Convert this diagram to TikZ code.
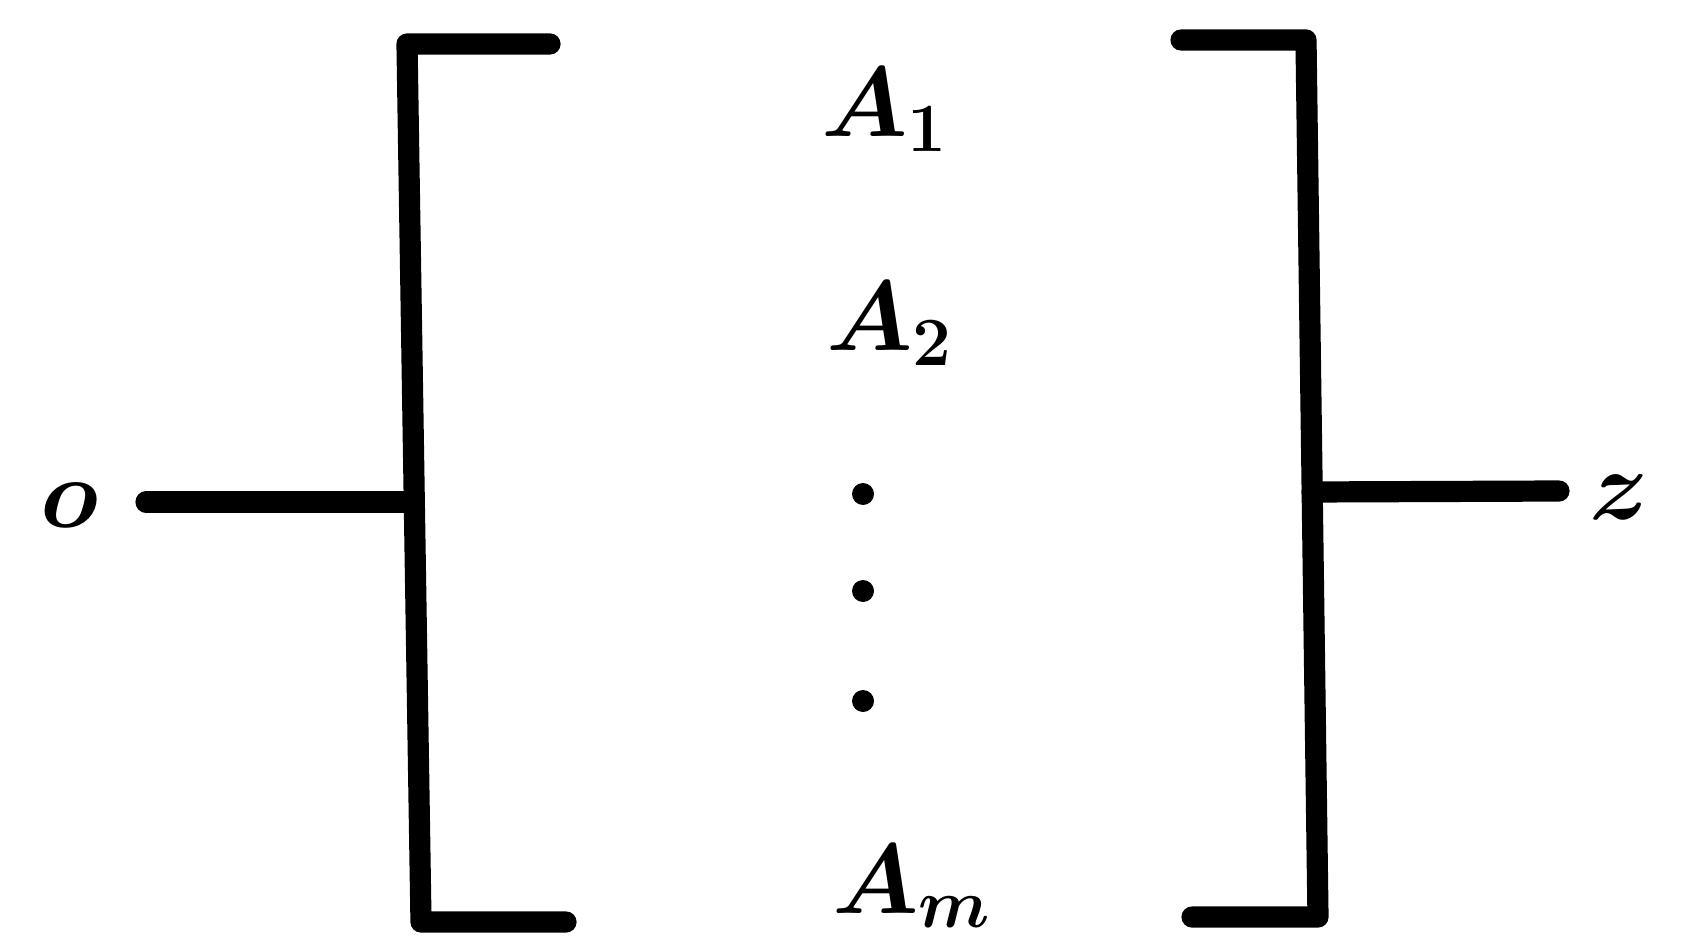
\documentclass[tikz,border=0pt]{standalone}
\begin{document}
\begin{tikzpicture}[x=0.25pt,y=-0.25pt,
  bar/.style={line width=5.3pt,line cap=round,line join=round},
  lbl/.style={inner sep=0pt,font=\fontsize{23}{27}\selectfont\boldmath},
  end/.style={inner sep=0pt,font=\fontsize{30}{34}\selectfont\boldmath},
  dotm/.style={circle,fill=black,inner sep=0pt,minimum size=5.5pt}]
\useasboundingbox (0,0) rectangle (1692,941);
% left bracket
\coordinate (LT) at (550,44);
\coordinate (LTC) at (407,44);
\coordinate (LBC) at (421,922);
\coordinate (LB) at (566,922);
\coordinate (LM) at (414,502);
\draw[bar] (LT) -- (LTC) -- (LBC) -- (LB);
% right bracket
\coordinate (RT) at (1181,40);
\coordinate (RTC) at (1306,40);
\coordinate (RBC) at (1318,917);
\coordinate (RB) at (1192,917);
\coordinate (RM) at (1312,492);
\draw[bar] (RT) -- (RTC) -- (RBC) -- (RB);
% terminals
\node[end] (o) at (70,505) {$o$};
\node[end] (z) at (1619,497) {$z$};
\coordinate (oS) at (146,502);
\coordinate (zS) at (1559,491);
\draw[bar] (oS) -- (LM);
\draw[bar] (RM) -- (zS);
% elements
\node[lbl] (a1) at (885,110) {$A_1$};
\node[lbl] (a2) at (890,324) {$A_2$};
\node[dotm] (d1) at (863,494) {};
\node[dotm] (d2) at (863,591) {};
\node[dotm] (d3) at (863,701) {};
\node[lbl,anchor=base] (am) at (912,913) {$A_m$};
\end{tikzpicture}
\end{document}
